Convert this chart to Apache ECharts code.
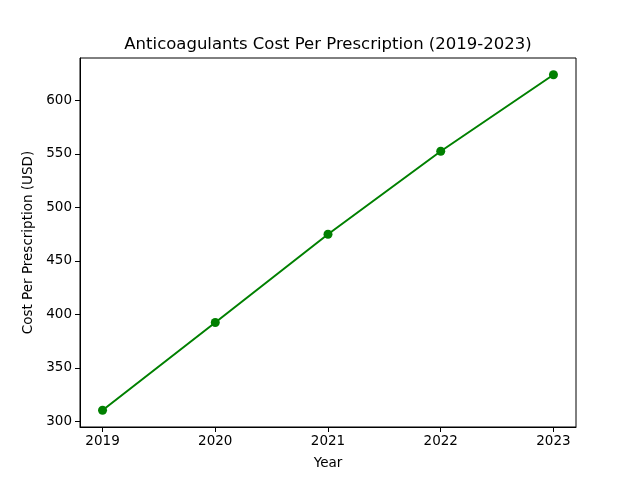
<!DOCTYPE html>
<html>
<head>
<meta charset="utf-8">
<script src="https://cdn.jsdelivr.net/npm/echarts@6/dist/echarts.min.js"></script>
<style>html,body{margin:0;padding:0;background:#fff}#c{width:640px;height:480px}</style>
</head>
<body>
<div id="c"></div>
<script>
const years = [2019, 2020, 2021, 2022, 2023];
const costs = [310.5, 392.5, 475, 552.5, 624];
const yTicks = [300, 350, 400, 450, 500, 550, 600];

const font = 'DejaVu Sans';
const xr = years[years.length - 1] - years[0];
const ymin = Math.min(...costs), ymax = Math.max(...costs);
const yr = ymax - ymin;

const chart = echarts.init(document.getElementById('c'), null, {renderer: 'canvas'});
chart.setOption({
  animation: false,
  backgroundColor: '#fff',
  title: {
    text: 'Anticoagulants Cost Per Prescription (2019-2023)',
    left: 323, top: 31, textAlign: 'center',
    textStyle: {fontFamily: font, fontSize: 16.5, fontWeight: 'normal', color: '#000'}
  },
  grid: {left: 80, right: 64, top: 58, bottom: 53, show: true, borderColor: '#000', borderWidth: 1, backgroundColor: 'transparent'},
  xAxis: {
    type: 'value',
    min: years[0] - 0.05 * xr, max: years[years.length - 1] + 0.05 * xr,
    name: 'Year', nameLocation: 'middle', nameGap: 29,
    nameTextStyle: {fontFamily: font, fontSize: 13.5, color: '#000'},
    splitLine: {show: false},
    axisLine: {show: true, lineStyle: {color: '#000', width: 1}},
    axisTick: {show: true, length: 5, lineStyle: {color: '#000'}, customValues: years},
    axisLabel: {fontFamily: font, fontSize: 13.5, color: '#000', margin: 7, customValues: years, formatter: v => String(v)}
  },
  yAxis: {
    type: 'value',
    min: ymin - 0.05 * yr, max: ymax + 0.05 * yr,
    name: 'Cost Per Prescription (USD)', nameLocation: 'middle', nameGap: 42,
    nameTextStyle: {fontFamily: font, fontSize: 13.5, color: '#000'},
    splitLine: {show: false},
    axisLine: {show: true, lineStyle: {color: '#000', width: 1}},
    axisTick: {show: true, length: 5, lineStyle: {color: '#000'}, customValues: yTicks},
    axisLabel: {fontFamily: font, fontSize: 13.5, color: '#000', margin: 8, customValues: yTicks}
  },
  series: [{
    type: 'line',
    data: years.map((y, i) => [y, costs[i]]),
    symbol: 'circle', symbolSize: 9,
    lineStyle: {color: '#008000', width: 2},
    itemStyle: {color: '#008000'}
  }]
});
</script>
</body>
</html>
